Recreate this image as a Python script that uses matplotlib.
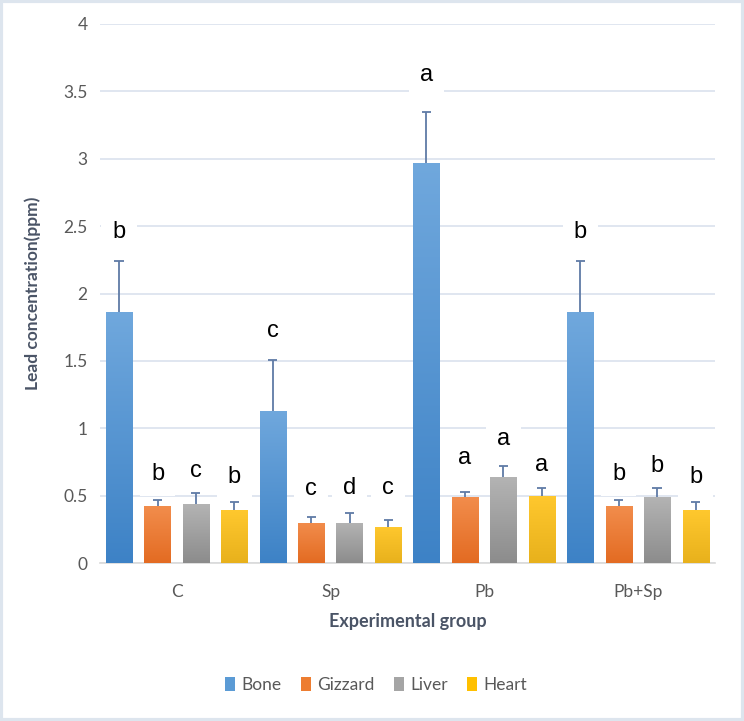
import numpy as np
import matplotlib
matplotlib.use('Agg')
import matplotlib.pyplot as plt
from matplotlib.colors import LinearSegmentedColormap
from matplotlib.patches import Patch, Rectangle
from matplotlib.ticker import FuncFormatter

plt.rcParams['font.family'] = ['Lato', 'DejaVu Sans']

groups = ['C', 'Sp', 'Pb', 'Pb+Sp']
organs = ['Bone', 'Gizzard', 'Liver', 'Heart']

# mean lead concentration (ppm), one list per organ, in group order
bone = [1.86, 1.13, 2.97, 1.86]
gizzard = [0.42, 0.30, 0.49, 0.42]
liver = [0.44, 0.30, 0.64, 0.49]
heart = [0.39, 0.27, 0.50, 0.39]

# upper error (SD)
bone_err = [0.38, 0.38, 0.38, 0.38]
gizzard_err = [0.05, 0.04, 0.04, 0.05]
liver_err = [0.08, 0.07, 0.08, 0.07]
heart_err = [0.06, 0.05, 0.06, 0.06]

# significance letters and the height they sit at
bone_let = ['b', 'c', 'a', 'b']
gizzard_let = ['b', 'c', 'a', 'b']
liver_let = ['c', 'd', 'a', 'b']
heart_let = ['b', 'c', 'a', 'b']
bone_let_y = [2.46, 1.72, 3.62, 2.46]
gizzard_let_y = [0.66, 0.55, 0.78, 0.66]
liver_let_y = [0.68, 0.56, 0.92, 0.72]
heart_let_y = [0.64, 0.56, 0.73, 0.64]

values = [bone, gizzard, liver, heart]
errors = [bone_err, gizzard_err, liver_err, heart_err]
letters = [bone_let, gizzard_let, liver_let, heart_let]
letter_y = [bone_let_y, gizzard_let_y, liver_let_y, heart_let_y]

flat = ['#5b9bd5', '#ed7d31', '#a5a5a5', '#ffc000']
tops = ['#70a8dd', '#f28d4c', '#b4b4b4', '#ffc82e']
bottoms = ['#3d82c6', '#e36b22', '#8c8c8c', '#e8b11c']

fig = plt.figure(figsize=(7.44, 7.21), dpi=100)
ax = fig.add_axes([100/744, 1-563/721, 615/744, 539/721])

# outer chart border
fig.patches.append(Rectangle((0.002, 0.002), 0.996, 0.996, transform=fig.transFigure,
                             fill=False, edgecolor='#dde5ee', linewidth=3))

x = np.arange(len(groups))
width = 0.17
offsets = [-0.377, -0.126, 0.123, 0.374]
cap = 0.03
grad = np.linspace(0, 1, 256).reshape(-1, 1)

for i in range(4):
    pos = x + offsets[i]
    bars = ax.bar(pos, values[i], width, color=flat[i], zorder=3)
    cmap = LinearSegmentedColormap.from_list('g%d' % i, [bottoms[i], tops[i]])
    for b in bars:
        x0 = b.get_x()
        h = b.get_height()
        im = ax.imshow(grad, extent=[x0, x0 + b.get_width(), 0, h], origin='lower',
                       aspect='auto', cmap=cmap, zorder=3.5)
        im.set_clip_path(b)
    # upper error bars only
    upper = np.array(values[i]) + np.array(errors[i])
    ax.vlines(pos, values[i], upper, color='#5f7ba6', linewidth=1.3, zorder=4)
    ax.hlines(upper, pos - cap, pos + cap, color='#5f7ba6', linewidth=1.3, zorder=4)
    for j in range(4):
        ax.text(pos[j], letter_y[i][j], letters[i][j], ha='center', va='center',
                fontsize=17, color='black', family=['Liberation Sans', 'DejaVu Sans'],
                zorder=2.5, bbox=dict(facecolor='white', edgecolor='none', pad=8))

ax.set_xlim(-0.5, 3.5)
ax.set_ylim(0, 4)
ax.set_yticks(np.arange(0, 4.01, 0.5))
ax.yaxis.set_major_formatter(FuncFormatter(lambda v, p: '%g' % v))
ax.set_xticks(x)
ax.set_xticklabels(groups)
ax.grid(axis='y', color='#dae2ed', linewidth=1.2, zorder=0)
ax.set_axisbelow(True)
for s in ['top', 'right', 'left']:
    ax.spines[s].set_visible(False)
ax.spines['bottom'].set_color('#d9d9d9')
ax.spines['bottom'].set_linewidth(1.2)
ax.tick_params(axis='both', length=0, colors='#595959', labelsize=12.5)
ax.tick_params(axis='y', pad=9)
ax.tick_params(axis='x', pad=15)

fig.text(33/744, 1-293/721, 'Lead concentration(ppm)', rotation=90, ha='center', va='center',
         fontsize=12.5, fontweight='bold', color='#4a5466')
fig.text(408/744, 1-622/721, 'Experimental group', ha='center', va='center',
         fontsize=13, fontweight='bold', color='#4a5466')

handles = [Patch(facecolor=c, edgecolor='none') for c in flat]
leg = fig.legend(handles, organs, loc='center', bbox_to_anchor=(376/744, 1-685/721), ncol=4,
                 frameon=False, fontsize=12.5, handlelength=0.6, handleheight=0.8,
                 handletextpad=0.35, columnspacing=1.1)
for t in leg.get_texts():
    t.set_color('#595959')

fig.savefig('out.png', dpi=100)
